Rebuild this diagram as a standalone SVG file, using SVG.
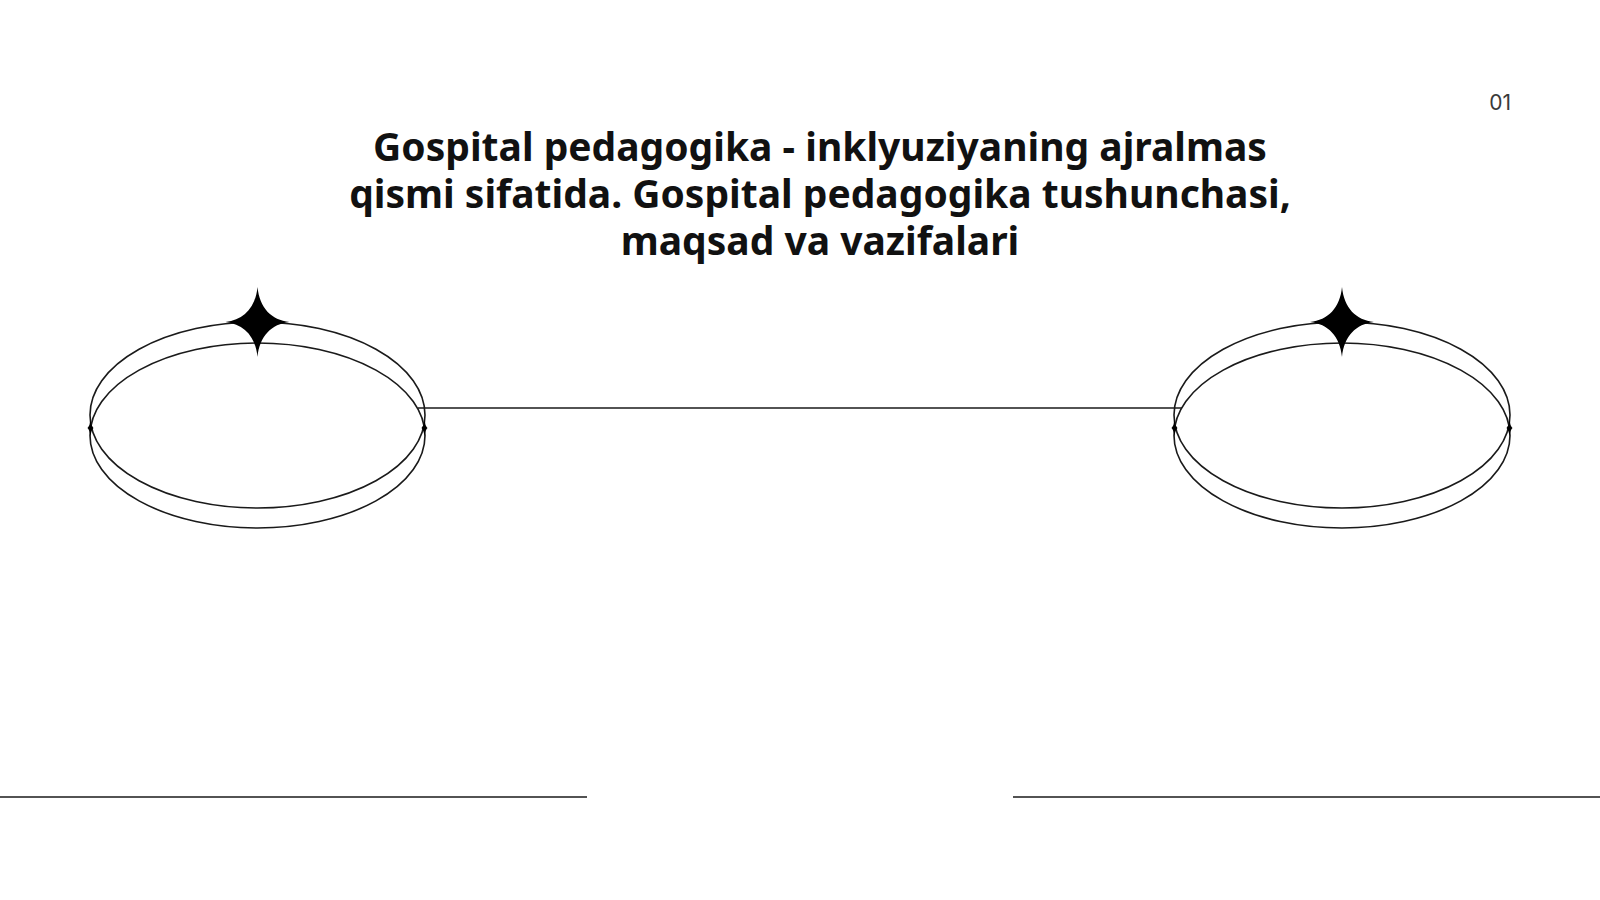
<svg xmlns="http://www.w3.org/2000/svg" width="1600" height="900" viewBox="0 0 1600 900">
  <defs>
    <style>
      .ring { fill: none; stroke: #1a1a1a; stroke-width: 1.6; }
      .line { fill: none; stroke: #1a1a1a; stroke-width: 1.6; }
      .star { fill: #000; }
      .title { font-family: "Noto Sans", "Open Sans", sans-serif; font-weight: 700; font-size: 39px; fill: #111; text-anchor: middle; }
      .num { font-family: "Inter", "Noto Sans", sans-serif; font-size: 21px; fill: #3a3a3a; text-anchor: end; }
    </style>
    <path id="bigstar" d="M0,-35 C2,-14 14,-2 32,0 C14,2 2,14 0,35 C-2,14 -14,2 -32,0 C-14,-2 -2,-14 0,-35 Z"/>
    <path id="smallstar" d="M0,-9 C0.5,-3 2,-1 3,0 C2,1 0.5,3 0,9 C-0.5,3 -2,1 -3,0 C-2,-1 -0.5,-3 0,-9 Z"/>
  </defs>
  <rect width="1600" height="900" fill="#ffffff"/>

  <text class="num" x="1511" y="110">01</text>

  <g id="title">
    <text class="title" x="820" y="161">Gospital pedagogika - inklyuziyaning ajralmas</text>
    <text class="title" x="820" y="208">qismi sifatida. Gospital pedagogika tushunchasi,</text>
    <text class="title" x="820" y="255">maqsad va vazifalari</text>
  </g>

  <g id="connectors">
    <line class="line" x1="418" y1="408" x2="1182" y2="408"/>
    <line class="line" x1="0" y1="797" x2="587" y2="797"/>
    <line class="line" x1="1013" y1="797" x2="1600" y2="797"/>
  </g>

  <g id="node-left">
    <ellipse class="ring" cx="257.5" cy="415" rx="167.5" ry="93"/>
    <ellipse class="ring" cx="257.5" cy="435.5" rx="167.5" ry="92.5"/>
    <use href="#bigstar" class="star" x="257.5" y="322"/>
    <use href="#smallstar" class="star" x="90.5" y="428"/>
    <use href="#smallstar" class="star" x="424.5" y="428"/>
  </g>

  <g id="node-right">
    <ellipse class="ring" cx="1342" cy="415" rx="168" ry="93"/>
    <ellipse class="ring" cx="1342" cy="435.5" rx="168" ry="92.5"/>
    <use href="#bigstar" class="star" x="1342" y="322"/>
    <use href="#smallstar" class="star" x="1174.5" y="428"/>
    <use href="#smallstar" class="star" x="1509.5" y="428"/>
  </g>
</svg>
